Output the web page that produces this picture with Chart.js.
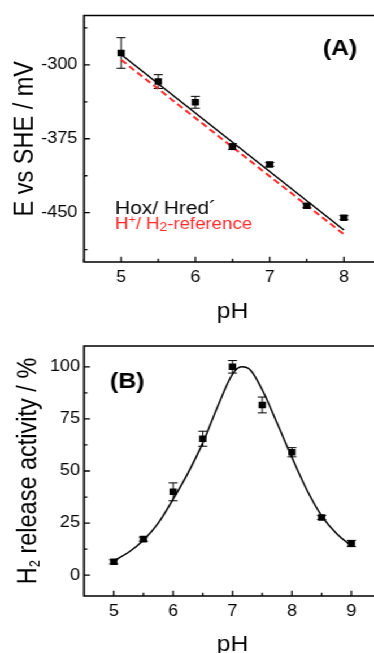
<!DOCTYPE html>
<html><head><meta charset="utf-8">
<script src="https://cdn.jsdelivr.net/npm/chart.js@4/dist/chart.umd.min.js"></script>
<style>
html,body{margin:0;padding:0;background:#fff;overflow:hidden;width:374px;height:653px;}
#wrap{position:absolute;left:0;top:0;width:345px;height:660px;transform:scaleX(1.13);transform-origin:0 0;}
#c1{position:absolute;left:0;top:0;width:345px;height:325px;}
#c2{position:absolute;left:0;top:325px;width:345px;height:335px;}
</style></head><body>
<div id="wrap"><canvas id="c1" width="345" height="325"></canvas><canvas id="c2" width="345" height="335"></canvas></div>
<script>
// ---------- Panel A data ----------
const phA = [5, 5.5, 6, 6.5, 7, 7.5, 8];
const potA = [-288, -317, -338, -383, -401, -443, -455];
const potErrA = [15.5, 7, 6, 3, 2, 2, 2];
const fitPhA = [5, 8];
const fitPotA = [-289.5, -467.5];
const refPhA = [5, 8];
const refPotA = [-295, -472];
const xTicksA = [5, 6, 7, 8];
const xMinorA = [4.5, 5.5, 6.5, 7.5, 8.5];
const yTicksA = [-300, -375, -450];
const yMinorA = [-262.5, -337.5, -412.5, -487.5];

// ---------- Panel B data ----------
const phB = [5, 5.5, 6, 6.5, 7, 7.5, 8, 8.5, 9];
const actB = [6.4, 17.3, 40, 65.5, 100, 81.7, 59, 27.7, 15.2];
const actErrB = [1, 1, 4.3, 3.6, 3, 3.8, 2.2, 1, 1.5];
const curvePhB = [5, 5.25, 5.5, 5.75, 6, 6.25, 6.5, 6.75, 7, 7.15, 7.3, 7.5, 7.75, 8, 8.25, 8.5, 8.75, 9];
const curveActB = [6.9, 11, 16.8, 25, 36.5, 49, 63.5, 81, 96.5, 100, 98.5, 89, 73, 56.5, 41, 28.5, 20, 14];
const xTicksB = [5, 6, 7, 8, 9];
const xMinorB = [5.5, 6.5, 7.5, 8.5];
const yTicksB = [0, 25, 50, 75, 100];
const yMinorB = [12.5, 37.5, 62.5, 87.5];

const FONT = "'Liberation Sans', Arial, Helvetica, sans-serif";
Chart.defaults.font.family = FONT;
Chart.defaults.color = '#000';
const RED = '#ff2a2a';

function pts(xs, ys) { return xs.map((v, i) => ({x: v, y: ys[i]})); }

function drawRich(ctx, x, y, parts) {
  let cx = x;
  parts.forEach(p => {
    ctx.font = (p.bold ? 'bold ' : '') + p.size + 'px ' + FONT;
    ctx.fillText(p.t, cx, y + (p.dy || 0));
    cx += ctx.measureText(p.t).width;
  });
}
function richWidth(ctx, parts) {
  let w = 0;
  parts.forEach(p => { ctx.font = (p.bold ? 'bold ' : '') + p.size + 'px ' + FONT; w += ctx.measureText(p.t).width; });
  return w;
}

function decor(cfg) {
  return {
    id: 'decor',
    beforeDatasetsDraw(chart) {
      const {ctx, scales: {x, y}} = chart;
      ctx.save();
      ctx.strokeStyle = '#000'; ctx.lineWidth = 1;
      cfg.ex.forEach((xv, i) => {
        const px = x.getPixelForValue(xv);
        const y1 = y.getPixelForValue(cfg.ey[i] + cfg.ee[i]);
        const y2 = y.getPixelForValue(cfg.ey[i] - cfg.ee[i]);
        ctx.beginPath();
        ctx.moveTo(px, y1); ctx.lineTo(px, y2);
        ctx.moveTo(px - 4, y1); ctx.lineTo(px + 4, y1);
        ctx.moveTo(px - 4, y2); ctx.lineTo(px + 4, y2);
        ctx.stroke();
      });
      ctx.restore();
    },
    afterDraw(chart) {
      const {ctx, chartArea: a, scales: {x, y}} = chart;
      ctx.save();
      // frame
      ctx.strokeStyle = '#000'; ctx.lineWidth = 1.7;
      ctx.beginPath();
      ctx.moveTo(a.right + 30, a.top); ctx.lineTo(a.left, a.top); ctx.lineTo(a.left, a.bottom); ctx.lineTo(a.right + 30, a.bottom);
      ctx.stroke();
      // inward ticks
      ctx.lineWidth = 1.3;
      ctx.beginPath();
      cfg.xMaj.forEach(v => { const p = x.getPixelForValue(v); ctx.moveTo(p, a.bottom); ctx.lineTo(p, a.bottom - 5.3); });
      cfg.xMin.forEach(v => { const p = x.getPixelForValue(v); ctx.moveTo(p, a.bottom); ctx.lineTo(p, a.bottom - 3.2); });
      cfg.yMaj.forEach(v => { const p = y.getPixelForValue(v); ctx.moveTo(a.left, p); ctx.lineTo(a.left + 5.3, p); });
      cfg.yMin.forEach(v => { const p = y.getPixelForValue(v); ctx.moveTo(a.left, p); ctx.lineTo(a.left + 3, p); });
      ctx.stroke();
      // x title
      ctx.fillStyle = '#000';
      ctx.textAlign = 'center'; ctx.textBaseline = 'alphabetic';
      ctx.font = '22px ' + FONT;
      ctx.fillText('pH', (a.left + a.right) / 2, cfg.xTitleBase);
      // y title (rotated)
      ctx.save();
      ctx.textAlign = 'left';
      ctx.translate(cfg.yTitleBase, (a.top + a.bottom) / 2);
      ctx.rotate(-Math.PI / 2);
      const w = richWidth(ctx, cfg.yTitle);
      drawRich(ctx, -w / 2, 0, cfg.yTitle);
      ctx.restore();
      cfg.extra(ctx, a);
      ctx.restore();
    }
  };
}

function xScale(min, max, ticksArr, h) {
  return {
    type: 'linear', min, max,
    grid: {display: false, drawTicks: false}, border: {display: false},
    ticks: {color: '#000', font: {size: 16}, padding: 6.2, autoSkip: false, maxRotation: 0},
    afterBuildTicks: s => { s.ticks = ticksArr.map(v => ({value: v})); },
    afterFit: s => { s.height = h; }
  };
}
function yScale(min, max, ticksArr, pad) {
  return {
    type: 'linear', min, max,
    grid: {display: false, drawTicks: false}, border: {display: false},
    ticks: {color: '#000', font: {size: 16}, padding: pad, autoSkip: false},
    afterBuildTicks: s => { s.ticks = ticksArr.map(v => ({value: v})); },
    afterFit: s => { s.width = 74.34; }
  };
}

const common = {
  responsive: false, animation: false, devicePixelRatio: 1,
  plugins: {legend: {display: false}, tooltip: {enabled: false}}
};

// ---------- Chart A ----------
new Chart(document.getElementById('c1'), {
  type: 'scatter',
  data: {datasets: [
    {data: pts(phA, potA), showLine: false, pointStyle: 'rect', pointRadius: 4.6, backgroundColor: '#000', borderWidth: 0, order: 0},
    {data: pts(fitPhA, fitPotA), showLine: true, pointRadius: 0, borderColor: '#000', borderWidth: 1.5, order: 1},
    {data: pts(refPhA, refPotA), showLine: true, pointRadius: 0, borderColor: RED, borderWidth: 2, borderDash: [6, 3.5], order: 2}
  ]},
  options: Object.assign({}, common, {
    layout: {padding: {top: 13, right: 7.8, bottom: 0, left: 0}},
    scales: {x: xScale(4.5, 8.5, xTicksA, 63), y: yScale(-500, -250, yTicksA, 5.9)}
  }),
  plugins: [decor({
    ex: phA, ey: potA, ee: potErrA,
    xMaj: xTicksA, xMin: xMinorA, yMaj: yTicksA, yMin: yMinorA,
    xTitleBase: 317.5, yTitleBase: 28.6,
    yTitle: [{t: 'E vs SHE / mV', size: 23.5}],
    extra: (ctx, a) => {
      ctx.textAlign = 'center'; ctx.textBaseline = 'middle'; ctx.fillStyle = '#000';
      ctx.font = 'bold 22px ' + FONT;
      ctx.fillText('(A)', 300.9, 48.5);
      ctx.textAlign = 'left'; ctx.textBaseline = 'alphabetic';
      drawRich(ctx, 101.8, 214, [{t: 'Hox/ Hred\u00B4', size: 18.5}]);
      ctx.fillStyle = RED;
      drawRich(ctx, 101.8, 229.3, [
        {t: 'H', size: 16.5}, {t: '+', size: 11, dy: -6.5}, {t: '/ H', size: 16.5},
        {t: '2', size: 12, dy: 2}, {t: '-reference', size: 16.5}
      ]);
    }
  })]
});

// ---------- Chart B ----------
new Chart(document.getElementById('c2'), {
  type: 'scatter',
  data: {datasets: [
    {data: pts(phB, actB), showLine: false, pointStyle: 'rect', pointRadius: 4.6, backgroundColor: '#000', borderWidth: 0, order: 0},
    {data: pts(curvePhB, curveActB), showLine: true, pointRadius: 0, borderColor: '#000', borderWidth: 1.5, cubicInterpolationMode: 'monotone', order: 1}
  ]},
  options: Object.assign({}, common, {
    layout: {padding: {top: 21, right: 7.8, bottom: 0, left: 0}},
    scales: {x: xScale(4.5, 9.5, xTicksB, 64), y: yScale(-10, 110, yTicksB, 3.5)}
  }),
  plugins: [decor({
    ex: phB, ey: actB, ee: actErrB,
    xMaj: xTicksB, xMin: xMinorB, yMaj: yTicksB, yMin: yMinorB,
    xTitleBase: 325.8, yTitleBase: 31.6,
    yTitle: [{t: 'H', size: 23.5}, {t: '2', size: 13, dy: 3}, {t: ' release activity / %', size: 23.5}],
    extra: (ctx, a) => {
      ctx.textAlign = 'center'; ctx.textBaseline = 'middle'; ctx.fillStyle = '#000';
      ctx.font = 'bold 22px ' + FONT;
      ctx.fillText('(B)', 112.6, 56.7);
    }
  })]
});
</script>
</body></html>
